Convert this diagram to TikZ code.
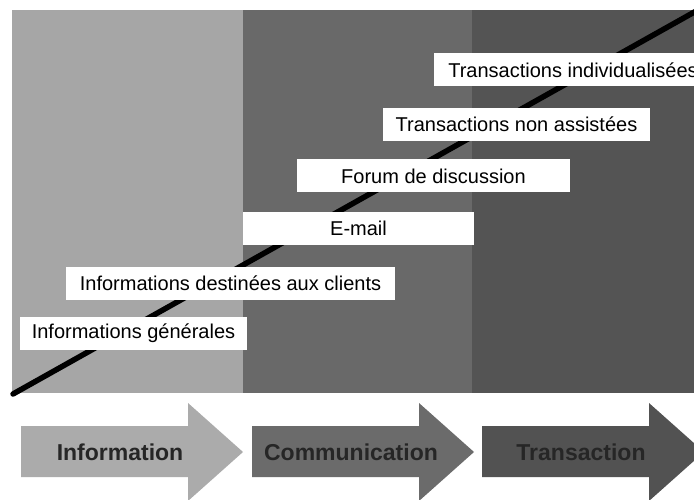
\documentclass[tikz,border=0pt]{standalone}
\usepackage{fontspec}
\setmainfont{Liberation Sans}
\usetikzlibrary{positioning}

\definecolor{bandA}{gray}{0.65}
\definecolor{bandB}{gray}{0.41}
\definecolor{bandC}{gray}{0.33}
\definecolor{phaseA}{gray}{0.67}
\definecolor{phaseB}{gray}{0.42}
\definecolor{phaseC}{gray}{0.32}

\begin{document}
\begin{tikzpicture}[x=1pt,y=-1pt,
level/.style={rectangle, fill=white, draw=none, inner sep=0pt, minimum height=33pt, font=\fontsize{20}{24}\selectfont},
phase/.style={draw=none, fill=none, inner sep=0pt, text=black!85, font=\bfseries\fontsize{23}{27}\selectfont},
trend/.style={line width=5.5pt, line cap=round}]

%% local variables
\def \ptop {10}
\def \pbot {393}
\def \body {167}
\def \head {55}

\useasboundingbox (0,0) rectangle (694,500);
\clip (0,0) rectangle (694,500);

%% place the three background bands
\fill[bandA] (12,\ptop) rectangle (243,\pbot);
\fill[bandB] (243,\ptop) rectangle (472,\pbot);
\fill[bandC] (472,\ptop) rectangle (700,\pbot);

%% place the trend line
\coordinate (start) at (13,394);
\coordinate (end) at (698,10);
\draw[trend] (start) -- (end);

%% place all levels on the line
\foreach \s/\x/\y/\w/\t in {1/133.5/333.5/227/Informations générales,
                            2/230.5/283/329/Informations destinées aux clients,
                            3/358.5/228.5/231/E-mail,
                            4/433.5/176/273/Forum de discussion,
                            5/516.5/124.5/267/Transactions non assistées,
                            6/573/70/278/Transactions individualisées}
      \node[level, minimum width=\w pt] (L-\s) at (\x,\y) {\t};

%% place the phase arrows
\foreach \s/\a/\c/\t in {1/21/phaseA/Information, 2/252/phaseB/Communication, 3/482/phaseC/Transaction}
{
      \fill[\c] (\a,426) -- ++(\body,0) -- ++(0,-23) -- ++(\head,49) -- ++(-\head,49) -- ++(0,-24) -- ++(-\body,0) -- cycle;
      \node[phase] (P-\s) at (\a+99,452) {\t};
}

\end{tikzpicture}
\end{document}
